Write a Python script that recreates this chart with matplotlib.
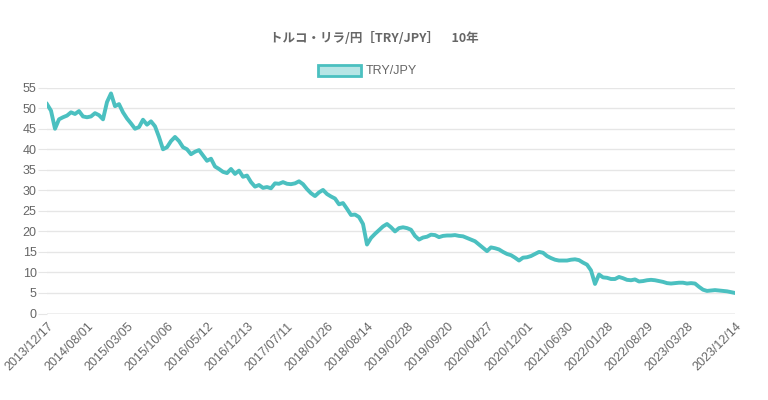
import matplotlib.pyplot as plt
from matplotlib.patches import Patch

plt.rcParams['font.family'] = ['Liberation Sans', 'Noto Sans CJK JP', 'DejaVu Sans']

# TRY/JPY 終値（グラフから読み取り、ほぼ等間隔）
rate = [
    51.0, 49.4, 45.0, 47.3, 47.8, 48.2, 49.0, 48.6, 49.3, 48.0,
    47.8, 48.0, 48.8, 48.3, 47.3, 51.5, 53.6, 50.5, 51.0, 49.0,
    47.5, 46.3, 45.0, 45.4, 47.2, 46.0, 46.8, 45.6, 43.0, 40.0,
    40.5, 42.0, 43.0, 42.0, 40.5, 40.0, 38.8, 39.4, 39.8, 38.5,
    37.2, 37.7, 35.8, 35.2, 34.5, 34.2, 35.2, 34.0, 34.8, 33.3,
    33.6, 32.0, 30.9, 31.3, 30.6, 30.8, 30.5, 31.7, 31.6, 32.0,
    31.6, 31.5, 31.7, 32.2, 31.5, 30.3, 29.3, 28.6, 29.5, 30.1,
    29.1, 28.5, 28.0, 26.6, 26.9, 25.5, 24.0, 24.1, 23.5, 21.8,
    16.8, 18.4, 19.4, 20.3, 21.2, 21.8, 21.0, 20.0, 20.8, 21.0,
    20.8, 20.4, 18.9, 18.0, 18.5, 18.7, 19.2, 19.1, 18.6, 18.9,
    19.0, 19.0, 19.1, 18.9, 18.8, 18.4, 18.0, 17.6, 16.8, 16.0,
    15.2, 16.1, 15.9, 15.6, 15.0, 14.5, 14.2, 13.6, 12.9, 13.6,
    13.7, 14.0, 14.5, 15.0, 14.8, 14.0, 13.5, 13.1, 12.9, 12.9,
    12.9, 13.1, 13.2, 13.0, 12.4, 11.9, 10.5, 7.2, 9.5, 8.8,
    8.7, 8.4, 8.4, 8.9, 8.6, 8.2, 8.1, 8.3, 7.8, 7.9,
    8.1, 8.2, 8.1, 7.9, 7.7, 7.4, 7.3, 7.4, 7.5, 7.5,
    7.3, 7.4, 7.3, 6.5, 5.8, 5.5, 5.6, 5.7, 5.6, 5.5,
    5.4, 5.2, 5.0,
]

tick_pos = [0, 10, 20, 30, 40, 50, 60, 70, 80, 90, 100, 110, 120, 130, 140, 150, 160, 172]
tick_labels = [
    "2013/12/17", "2014/08/01", "2015/03/05", "2015/10/06", "2016/05/12",
    "2016/12/13", "2017/07/11", "2018/01/26", "2018/08/14", "2019/02/28",
    "2019/09/20", "2020/04/27", "2020/12/01", "2021/06/30", "2022/01/28",
    "2022/08/29", "2023/03/28", "2023/12/14",
]
y_ticks = list(range(0, 60, 5))

teal = "#4bc0c0"
grey = "#666666"

fig = plt.figure(figsize=(7.68, 4), dpi=100)
ax = fig.add_axes([47 / 768, 1 - 313.5 / 400, 688 / 768, 225.8 / 400])

ax.plot(range(len(rate)), rate, color=teal, linewidth=2.8, solid_joinstyle="round")

ax.set_xlim(0, len(rate) - 1)
ax.set_ylim(0, 55)
ax.set_yticks(y_ticks)
ax.set_xticks(tick_pos)
ax.set_xticklabels(tick_labels, rotation=45, ha="right", va="top", rotation_mode="anchor")

ax.grid(axis="y", color="#e6e6e6", linewidth=1)
ax.axhline(0, color="#c4c4c4", linewidth=1, zorder=1)
ax.set_axisbelow(True)
for s in ax.spines.values():
    s.set_visible(False)
ax.tick_params(axis="y", length=6.5, color="#e6e6e6", pad=1, labelsize=9, labelcolor=grey)
ax.tick_params(axis="x", length=0, pad=5, labelsize=9, labelcolor=grey)

fig.text(374 / 768, 1 - 38 / 400, "トルコ・リラ/円［TRY/JPY］　10年",
         ha="center", va="center", fontsize=9, fontweight="bold", color=grey,
         family=["Noto Sans CJK JP", "DejaVu Sans"])

handle = Patch(facecolor=(75 / 255, 192 / 255, 192 / 255, 0.4), edgecolor=teal, linewidth=2)
fig.legend([handle], ["TRY/JPY"], loc="center", bbox_to_anchor=(367.5 / 768, 1 - 71 / 400),
           frameon=False, fontsize=9, labelcolor=grey, handlelength=3.4, handleheight=1.0,
           handletextpad=0.4, borderpad=0)

fig.savefig("out.png", dpi=100)
